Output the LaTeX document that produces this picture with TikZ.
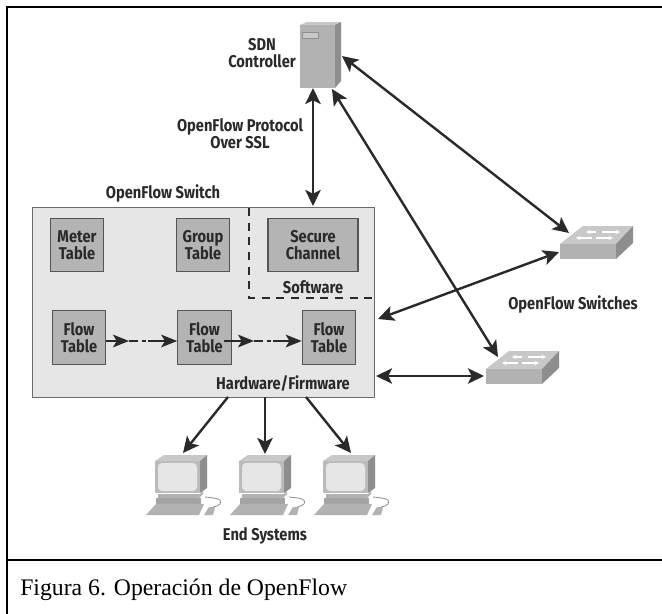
\documentclass[tikz,border=0pt]{standalone}
\usepackage{fontspec}
\setmainfont{Liberation Serif}
\newfontfamily\labfont[FakeStretch=0.86]{Fira Sans}
\usetikzlibrary{arrows.meta,calc}
\definecolor{ink}{HTML}{2A2A2A}
\definecolor{boxfill}{HTML}{E6E6E6}
\definecolor{boxline}{HTML}{6A6A6A}
\definecolor{cellfill}{HTML}{B4B4B4}
\definecolor{cellline}{HTML}{555555}
\definecolor{facefront}{HTML}{B2B2B2}
\definecolor{facetop}{HTML}{C8C8C8}
\definecolor{faceside}{HTML}{8E8E8E}
\tikzset{
  lab/.style={font=\labfont\bfseries\fontsize{12.8}{12.75}\selectfont,text=ink,align=center,inner sep=0pt},
  cell/.style={lab,draw=cellline,fill=cellfill,line width=0.9pt,minimum height=40pt,minimum width=40pt},
  link/.style={draw=ink,line width=1.8pt,{Stealth[length=12pt,width=11.5pt,inset=2.8pt]}-{Stealth[length=12pt,width=11.5pt,inset=2.8pt]}},
  oneway/.style={draw=ink,line width=1.8pt,-{Stealth[length=12pt,width=11.5pt,inset=2.8pt]}},
  flowhead/.style={draw=ink,line width=1.5pt,-{Stealth[length=12pt,width=9.5pt,inset=2.8pt]}},
  frameline/.style={line width=2pt,black,line cap=butt},
  computer/.pic={
    \fill[facetop] (0,0) -- (9,-6) -- (52,-6) -- (45,0) -- cycle;
    \fill[faceside] (45,0) -- (52,-6) -- (52,27) -- (45,32) -- cycle;
    \fill[facefront!88!white] (0,0) rectangle (45,32);
    \fill[boxfill,rounded corners=3pt] (3,2) rectangle (42,30);
    \fill[facefront] (3,33) -- (45,33) -- (48,30) -- (48,33) -- (44,37) -- (3,37) -- cycle;
    \fill[faceside!80!white] (1,37) rectangle (46,43);
    \fill[facefront] (-9,54) -- (1,43) -- (49,43) -- (44,54) -- cycle;
    \fill[facefront] (49,54) -- (54,46) -- (60,46) -- (58,54) -- cycle;
    \draw[faceside,line width=0.6pt] (50,36) .. controls (58,37) and (68,37) .. (65,43) .. controls (64,45) and (61,45) .. (58,46);
  },
  netswitch/.pic={
    \fill[facetop] (0,0) -- (23,-18) -- (73,-18) -- (56,0) -- cycle;
    \fill[faceside] (56,0) -- (73,-18) -- (73,-1) -- (56,15) -- cycle;
    \fill[facefront] (0,0) rectangle (56,15);
    \draw[white,line width=0.9pt,-{Stealth[length=3.4pt,width=3.4pt]}] (36,-12) -- (26,-12);
    \draw[white,line width=0.9pt,-{Stealth[length=3.4pt,width=3.4pt]}] (42,-12) -- (60,-12);
    \draw[white,line width=0.9pt,-{Stealth[length=3.4pt,width=3.4pt]}] (32,-6) -- (16,-6);
    \draw[white,line width=0.9pt,-{Stealth[length=3.4pt,width=3.4pt]}] (36,-6) -- (53,-6);
  }
}
\begin{document}
\begin{tikzpicture}[x=0.75pt,y=-0.75pt]
\useasboundingbox (0,0) rectangle (662,614);
\fill[white] (0,0) rectangle (662,614);
% frame
\draw[frameline] (662,7) -- (7,7) -- (7,614);
\draw[frameline] (7,560) -- (662,560);
\node[anchor=base west,inner sep=0pt,font=\fontsize{17.8}{20}\selectfont,text=black] (caption) at (20,595) {Figura 6. Operación de OpenFlow};
% controller
\fill[facetop] (300,25) -- (307,22) -- (341,22) -- (335,25) -- cycle;
\fill[faceside] (335,25) -- (341,22) -- (341,81) -- (335,88) -- cycle;
\fill[facefront] (300,25) rectangle (335,88);
\fill[facetop,draw=faceside,line width=0.4pt] (302,32) rectangle (318,38);
\coordinate (ctrlS) at (313,88);
\coordinate (ctrlE) at (342,56);
\coordinate (ctrlB) at (332,89);
\node[lab] (ctrllabel) at (262,53.5) {SDN\\Controller};
\node[lab] (prot) at (240,133.5) {OpenFlow Protocol\\Over SSL};
\node[lab] (swlabel) at (163,193.5) {OpenFlow Switch};
% switch box
\node[draw=boxline,fill=boxfill,line width=1.1pt,minimum width=256.5pt,minimum height=142.5pt,inner sep=0pt,anchor=north west] (sw) at (32,207) {};
\draw[ink,line width=1.3pt,dash pattern=on 6pt off 5pt] (249,208) -- (249,298) -- (374,298);
\node[lab] (softlabel) at (313,287) {Software};
\node[lab] (hwlabel) at (283,383) {Hardware/Firmware};
\node[cell] (meter) at (77,245) {Meter\\Table};
\node[cell] (group) at (203,245) {Group\\Table};
\node[cell,minimum width=67.5pt] (secure) at (313,245) {Secure\\Channel};
\node[cell] (f1) at (79,337.5) {Flow\\Table};
\node[cell] (f2) at (204.5,337.5) {Flow\\Table};
\node[cell] (f3) at (329,337.5) {Flow\\Table};
% flow arrows
\coordinate (a1) at (129,341);
\coordinate (b1) at (148,341);
\coordinate (a2) at (254,341);
\coordinate (b2) at (273,341);
\draw[flowhead] (f1.east |- a1) -- (a1);
\draw[ink,line width=1.5pt,dash pattern=on 7pt off 2.5pt on 3pt off 2.5pt] (a1) -- (b1);
\draw[flowhead] (b1) -- (f2.west |- b1);
\draw[flowhead] ($(f2.east |- a2)+(-8,0)$) -- (a2);
\draw[ink,line width=1.5pt,dash pattern=on 7pt off 2.5pt on 3pt off 2.5pt] (a2) -- (b2);
\draw[flowhead] (b2) -- (f3.west |- b2);
% network switches
\pic at (560,244) {netswitch};
\pic at (486,369) {netswitch};
\node[lab] (swslabel) at (573,304) {OpenFlow Switches};
\coordinate (s1T) at (569,233);
\coordinate (s1L) at (559,252);
\coordinate (s2T) at (498,357);
\coordinate (s2L) at (484,376);
\coordinate (swR1) at (378,319);
\coordinate (swR2) at (376,376);
\coordinate (swT) at (313,206);
\draw[link] (ctrlS) -- (swT);
\draw[link] (ctrlE) -- (s1T);
\draw[link] (ctrlB) -- (s2T);
\draw[link] (swR1) -- (s1L);
\draw[link] (swR2) -- (s2L);
% end systems
\pic at (155,461) {computer};
\pic at (239,461) {computer};
\pic at (323,461) {computer};
\node[lab] (endlabel) at (265,536) {End Systems};
\coordinate (o1) at (228,397);
\coordinate (o2) at (265,397);
\coordinate (o3) at (306,397);
\coordinate (t1) at (183,453);
\coordinate (t2) at (265,454);
\coordinate (t3) at (351,453);
\draw[oneway] (o1) -- (t1);
\draw[oneway] (o2) -- (t2);
\draw[oneway] (o3) -- (t3);
\end{tikzpicture}
\end{document}
